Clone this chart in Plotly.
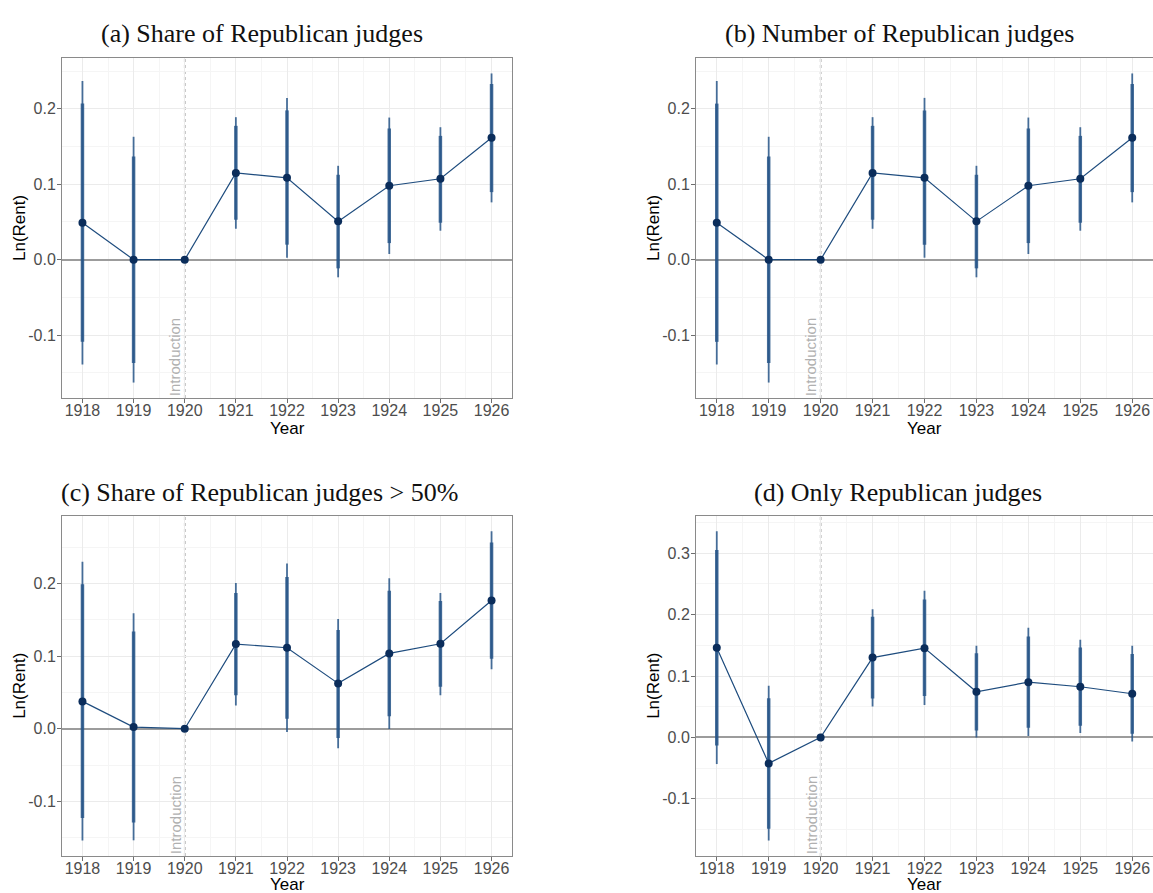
import plotly.graph_objects as go

# Event-study estimates of Ln(Rent) by year, relative to 1920
years = [1918, 1919, 1920, 1921, 1922, 1923, 1924, 1925, 1926]

# (a) Share of Republican judges
a_est = [0.049, 0.000, 0.000, 0.115, 0.1086, 0.0508, 0.098, 0.1073, 0.1616]
a_lo95 = [-0.139, -0.163, None, 0.041, 0.0026, -0.0234, 0.0075, 0.0384, 0.076]
a_hi95 = [0.237, 0.163, None, 0.189, 0.2146, 0.1245, 0.1885, 0.1757, 0.247]
a_lo90 = [-0.109, -0.137, None, 0.053, 0.0199, -0.0115, 0.022, 0.049, 0.0896]
a_hi90 = [0.207, 0.137, None, 0.1775, 0.198, 0.1126, 0.174, 0.1642, 0.233]

# (b) Number of Republican judges
b_est = [0.049, 0.000, 0.000, 0.115, 0.1086, 0.0508, 0.098, 0.1073, 0.1616]
b_lo95 = [-0.139, -0.163, None, 0.041, 0.0026, -0.0234, 0.0075, 0.0384, 0.076]
b_hi95 = [0.237, 0.163, None, 0.189, 0.2146, 0.1245, 0.1885, 0.1757, 0.247]
b_lo90 = [-0.109, -0.137, None, 0.053, 0.0199, -0.0115, 0.022, 0.049, 0.0896]
b_hi90 = [0.207, 0.137, None, 0.1775, 0.198, 0.1126, 0.174, 0.1642, 0.233]

# (c) Share of Republican judges > 50%
c_est = [0.0376, 0.0023, 0.000, 0.1165, 0.1115, 0.0624, 0.1037, 0.117, 0.1766]
c_lo95 = [-0.154, -0.1537, None, 0.0321, -0.0046, -0.027, -0.0005, 0.0459, 0.0817]
c_hi95 = [0.2298, 0.159, None, 0.2005, 0.2275, 0.151, 0.207, 0.187, 0.272]
c_lo90 = [-0.123, -0.129, None, 0.0459, 0.0138, -0.0128, 0.017, 0.0578, 0.0963]
c_hi90 = [0.199, 0.134, None, 0.1867, 0.209, 0.136, 0.190, 0.176, 0.2564]

# (d) Only Republican judges
d_est = [0.146, -0.0423, 0.000, 0.130, 0.1454, 0.0743, 0.090, 0.0825, 0.0711]
d_lo95 = [-0.0434, -0.168, None, 0.0505, 0.0526, 0.000, 0.0022, 0.007, -0.0065]
d_hi95 = [0.336, 0.0841, None, 0.2089, 0.239, 0.1492, 0.1785, 0.159, 0.1492]
d_lo90 = [-0.013, -0.1487, None, 0.0635, 0.0673, 0.0114, 0.0157, 0.019, 0.006]
d_hi90 = [0.3055, 0.064, None, 0.1964, 0.2246, 0.1373, 0.1644, 0.1465, 0.136]

titles = [
    "(a) Share of Republican judges",
    "(b) Number of Republican judges",
    "(c) Share of Republican judges > 50%",
    "(d) Only Republican judges",
]
ytick_abc = [-0.1, 0.0, 0.1, 0.2]
ytick_d = [-0.1, 0.0, 0.1, 0.2, 0.3]
intro_year = 1920
x_title = "Year"
y_title = "Ln(Rent)"
intro_label = "Introduction"

W, H = 1153, 893
SANS = "Liberation Sans, Arial, Helvetica, sans-serif"
SERIF = "Liberation Serif, Times New Roman, serif"
BAR_COL = "rgba(40,86,136,0.85)"
PT_COL = "#0B2D5B"
LINE_COL = "#1E4C7E"

panels = [
    dict(est=a_est, lo95=a_lo95, hi95=a_hi95, lo90=a_lo90, hi90=a_hi90, yt=ytick_abc),
    dict(est=b_est, lo95=b_lo95, hi95=b_hi95, lo90=b_lo90, hi90=b_hi90, yt=ytick_abc),
    dict(est=c_est, lo95=c_lo95, hi95=c_hi95, lo90=c_lo90, hi90=c_hi90, yt=ytick_abc),
    dict(est=d_est, lo95=d_lo95, hi95=d_hi95, lo90=d_lo90, hi90=d_hi90, yt=ytick_d),
]

# plot-area boxes in pixels: (left, right, top, bottom)
boxes = [
    (62, 512, 58, 398),
    (696, 1153.5, 58, 398),
    (62, 512, 515.7, 856),
    (696, 1153.5, 515.7, 856),
]
title_pos = [(261.5, 34), (899.5, 34), (259.5, 492.5), (898, 492.5)]


def px_x(v):
    return v / W


def px_y(v):
    return 1 - v / H


def segments(xs, lo, hi):
    sx, sy = [], []
    for x, l, h in zip(xs, lo, hi):
        if l is None or h is None:
            continue
        sx += [x, x, None]
        sy += [l, h, None]
    return sx, sy


fig = go.Figure()
annotations = []
shapes = []
layout_axes = {}

x_lo, x_hi = min(years), max(years)
x_pad = (x_hi - x_lo) * 0.05

for i, (p, box) in enumerate(zip(panels, boxes)):
    n = i + 1
    xa = "x" if n == 1 else f"x{n}"
    ya = "y" if n == 1 else f"y{n}"
    xkey = "xaxis" if n == 1 else f"xaxis{n}"
    ykey = "yaxis" if n == 1 else f"yaxis{n}"

    # outer (95%) and inner (90%) intervals
    ox, oy = segments(years, p["lo95"], p["hi95"])
    fig.add_trace(go.Scatter(x=ox, y=oy, mode="lines", xaxis=xa, yaxis=ya,
                             line=dict(color=BAR_COL, width=1.8), hoverinfo="skip"))
    ix, iy = segments(years, p["lo90"], p["hi90"])
    fig.add_trace(go.Scatter(x=ix, y=iy, mode="lines", xaxis=xa, yaxis=ya,
                             line=dict(color=BAR_COL, width=3.5), hoverinfo="skip"))
    fig.add_trace(go.Scatter(x=years, y=p["est"], mode="lines+markers", xaxis=xa, yaxis=ya,
                             line=dict(color=LINE_COL, width=1.2),
                             marker=dict(color=PT_COL, size=8)))

    vals = [v for v in p["lo95"] + p["hi95"] + p["est"] if v is not None]
    y_min, y_max = min(vals), max(vals)
    y_pad = (y_max - y_min) * 0.05

    left, right, top, bottom = box
    layout_axes[xkey] = dict(
        domain=[px_x(left), min(1.0, px_x(right))],
        range=[x_lo - x_pad, x_hi + x_pad],
        anchor=ya, tickmode="array", tickvals=years, ticktext=[str(y) for y in years],
        showgrid=True, gridcolor="#EBEBEB", gridwidth=1,
        minor=dict(dtick=0.5, tick0=x_lo, showgrid=True, gridcolor="#F5F5F5", gridwidth=0.6, ticklen=0),
        zeroline=False, showline=True, linecolor="#8A8A8A", linewidth=1, mirror=True,
        ticks="outside", ticklen=4, tickcolor="#6E6E6E", tickwidth=1,
        ticklabelstandoff=-6,
        tickfont=dict(family=SANS, size=16, color="#4D4D4D"),
    )
    layout_axes[ykey] = dict(
        domain=[px_y(bottom), px_y(top)],
        range=[y_min - y_pad, y_max + y_pad],
        anchor=xa, tickmode="array", tickvals=p["yt"], ticktext=[f"{v:.1f}" for v in p["yt"]],
        showgrid=True, gridcolor="#EBEBEB", gridwidth=1,
        minor=dict(dtick=0.05, tick0=0, showgrid=True, gridcolor="#F5F5F5", gridwidth=0.6, ticklen=0),
        zeroline=True, zerolinecolor="#9C9C9C", zerolinewidth=1.5,
        showline=True, linecolor="#8A8A8A", linewidth=1, mirror=True,
        ticks="outside", ticklen=4, tickcolor="#6E6E6E", tickwidth=1,
        ticklabelstandoff=-2,
        tickfont=dict(family=SANS, size=16, color="#4D4D4D"),
    )

    # dotted marker of the introduction year
    shapes.append(dict(type="line", xref=xa, yref=f"{ya} domain", x0=intro_year, x1=intro_year,
                       y0=0, y1=1, line=dict(color="#9A9A9A", width=1.6, dash="dot"), layer="below"))
    annotations.append(dict(text=intro_label, xref=xa, yref=f"{ya} domain", x=intro_year, y=0,
                            xanchor="right", yanchor="bottom", textangle=-90, showarrow=False,
                            xshift=1, font=dict(family=SANS, size=15, color="#B0B0B0")))

    # panel title
    tx, ty = title_pos[i]
    annotations.append(dict(text=titles[i], xref="paper", yref="paper", x=px_x(tx), y=px_y(ty),
                            xanchor="center", yanchor="middle", showarrow=False,
                            font=dict(family=SERIF, size=26, color="#111111")))
    # axis titles
    annotations.append(dict(text=x_title, xref="paper", yref="paper",
                            x=px_x((left + right) / 2), y=px_y(min(bottom + 30, H - 9)),
                            xanchor="center", yanchor="middle", showarrow=False,
                            font=dict(family=SANS, size=17, color="#000000")))
    annotations.append(dict(text=y_title, xref="paper", yref="paper",
                            x=px_x(left - 42), y=px_y((top + bottom) / 2),
                            xanchor="center", yanchor="middle", textangle=-90, showarrow=False,
                            font=dict(family=SANS, size=17, color="#000000")))

fig.update_layout(
    width=W, height=H, margin=dict(l=0, r=0, t=0, b=0),
    paper_bgcolor="white", plot_bgcolor="white", showlegend=False,
    annotations=annotations, shapes=shapes, **layout_axes,
)

fig.write_html("out.html")
